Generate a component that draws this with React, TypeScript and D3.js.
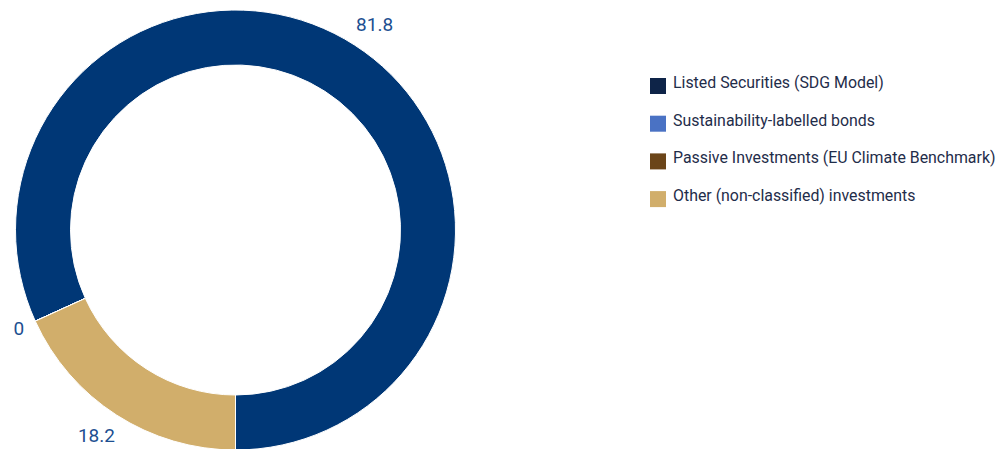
import React from "react";
import * as d3 from "d3";

const categories = [
  "Listed Securities (SDG Model)",
  "Sustainability-labelled bonds",
  "Passive Investments (EU Climate Benchmark)",
  "Other (non-classified) investments",
];
const values = [81.8, 0, 0, 18.2];
const valueLabels = ["81.8", "0", "0", "18.2"];
const sliceColors = ["#003776", "#4a72c4", "#6b4519", "#d1ae6b"];
const legendColors = ["#0e2448", "#4a72c4", "#6b4519", "#d1ae6b"];

const W = 999;
const H = 449;
const cx = 235.5;
const cy = 230;
const outerR = 220;
const innerR = 165;

export default function App() {
  const items = categories.map((c, i) => ({ c, v: values[i], label: valueLabels[i], i }));
  const pie = d3
    .pie<any>()
    .value((d) => d.v)
    .sort(null)
    .startAngle(Math.PI)
    .endAngle(-Math.PI);
  const arcs = pie(items);
  const arc = d3.arc<any>().innerRadius(innerR).outerRadius(outerR);

  const seen = new Set<string>();
  const labels = arcs
    .map((a) => {
      const mid = (a.startAngle + a.endAngle) / 2;
      const zero = a.data.v === 0;
      const r = zero ? 238 : 244;
      const s = Math.sin(mid);
      const x = cx + r * s + (zero ? 0 : 13 * s);
      const y = cy - r * Math.cos(mid);
      return { x, y, text: a.data.label, key: a.data.i };
    })
    .filter((l) => {
      const k = `${Math.round(l.x)}_${Math.round(l.y)}`;
      if (seen.has(k)) return false;
      seen.add(k);
      return true;
    });

  const legendX = 650;
  const legendY0 = 78;
  const legendStep = 37.7;
  const font = "Roboto, 'DejaVu Sans', sans-serif";

  return (
    <svg
      width={W}
      height={H}
      style={{ position: "absolute", left: 0, top: 0, background: "#fff" }}
    >
      <g transform={`translate(${cx},${cy})`}>
        {arcs.map((a) => (
          <path
            key={a.data.i}
            d={arc(a) || ""}
            fill={sliceColors[a.data.i]}
            stroke="#ffffff"
            strokeWidth={1}
            strokeLinejoin="round"
          />
        ))}
      </g>
      {labels.map((l) => (
        <text
          key={l.key}
          x={l.x}
          y={l.y}
          textAnchor="middle"
          dominantBaseline="central"
          fontFamily={font}
          fontSize={19}
          fill="#1d4f91"
        >
          {l.text}
        </text>
      ))}
      {categories.map((c, i) => (
        <g key={c} transform={`translate(${legendX},${legendY0 + i * legendStep})`}>
          <rect x={0} y={0} width={16} height={16} fill={legendColors[i]} />
          <text
            x={23}
            y={10}
            fontFamily={font}
            fontSize={15.9}
            fill="#1f2d4a"
          >
            {c}
          </text>
        </g>
      ))}
    </svg>
  );
}
